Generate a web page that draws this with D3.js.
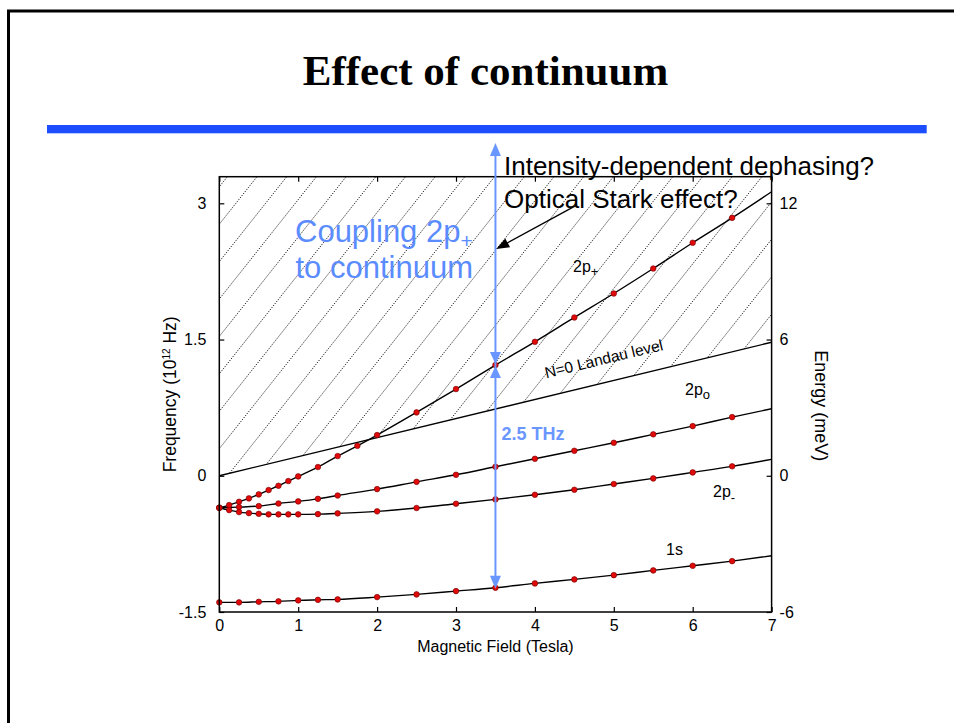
<!DOCTYPE html>
<html>
<head>
<meta charset="utf-8">
<script src="https://cdn.jsdelivr.net/npm/d3@7"></script>
<style>
  html, body { margin: 0; padding: 0; background: #fff; }
  svg { display: block; }
  text { font-family: Arial, "Liberation Sans", sans-serif; }
</style>
</head>
<body>
<svg id="chart" width="954" height="723"></svg>
<script>
// ---- axis ticks ----
const fieldTicks = [0, 1, 2, 3, 4, 5, 6, 7];
const freqTicks = [-1.5, 0, 1.5, 3];
const energyTicks = [-6, 0, 6, 12];

// ---- measured transition frequencies (THz) vs magnetic field (T) ----
const field1s = [0, 0.25, 0.5, 0.75, 1, 1.25, 1.5, 2, 2.5, 3, 3.5, 4, 4.5, 5, 5.5, 6, 6.5];
const freq1s  = [-1.394, -1.394, -1.388, -1.383, -1.372, -1.366, -1.361, -1.336, -1.306, -1.270,
                 -1.233, -1.185, -1.141, -1.094, -1.042, -0.991, -0.940];

const field2pMinus = [0, 0.125, 0.25, 0.375, 0.5, 0.625, 0.75, 0.875, 1, 1.25, 1.5, 2, 2.5, 3,
                      3.5, 4, 4.5, 5, 5.5, 6, 6.5];
const freq2pMinus  = [-0.352, -0.378, -0.400, -0.411, -0.419, -0.425, -0.425, -0.425, -0.425,
                      -0.422, -0.414, -0.392, -0.355, -0.308, -0.260, -0.209, -0.154, -0.091,
                      -0.029, 0.037, 0.104];

const field2p0 = [0, 0.25, 0.5, 0.75, 1, 1.25, 1.5, 2, 2.5, 3, 3.5, 4, 4.5, 5, 5.5, 6, 6.5];
const freq2p0  = [-0.352, -0.345, -0.334, -0.305, -0.282, -0.254, -0.217, -0.147, -0.067, 0.011,
                  0.099, 0.187, 0.275, 0.363, 0.456, 0.547, 0.646];

const field2pPlus = [0, 0.125, 0.25, 0.375, 0.5, 0.625, 0.75, 0.875, 1, 1.25, 1.5, 1.75, 2, 2.5,
                     3, 3.5, 4, 4.5, 5, 5.5, 6, 6.5];
const freq2pPlus  = [-0.352, -0.323, -0.286, -0.249, -0.205, -0.157, -0.110, -0.058, -0.007,
                     0.096, 0.217, 0.330, 0.448, 0.698, 0.955, 1.219, 1.475, 1.743, 2.007,
                     2.282, 2.566, 2.840];

// calculated curves continue to the edge of the field range
const curveEndField = 7;
const curveEnd1s = -0.881;
const curveEnd2pMinus = 0.181;
const curveEnd2p0 = 0.738;
const curveEnd2pPlus = 3.127;

// N=0 Landau level (continuum edge)
const landauField = [0, 7];
const landauFreq = [0, 1.47];

// annotation anchors
const arrowField = 3.5;
const arrowTopFreq = 3.664;
const arrowMidFreq = 1.219;
const arrowLowFreq = -1.233;
const starkTail = [4.53, 2.98];
const starkTip = [3.51, 2.497];

// ---- layout ----
const svg = d3.select("#chart");
const x = d3.scaleLinear().domain([0, 7]).range([219.3, 771.6]);
const y = d3.scaleLinear().domain([-1.5, 3.293]).range([612, 176.7]);
const yE = d3.scaleLinear().domain([-6, 13.172]).range([612, 176.7]);
const [x0, x1] = x.range();
const [yb, yt] = y.range();

// slide frame
svg.append("path").attr("d", `M8.5,723 L8.5,11 L954,11`)
  .attr("fill", "none").attr("stroke", "#000").attr("stroke-width", 3);

// title and rule
svg.append("text").attr("x", 485.5).attr("y", 85).attr("text-anchor", "middle")
  .style("font-family", "'Liberation Serif','Times New Roman',serif")
  .style("font-weight", "bold").style("font-size", "43px")
  .text("Effect of continuum");
svg.append("rect").attr("x", 47).attr("y", 125).attr("width", 879.7).attr("height", 8.3)
  .attr("fill", "#1c4dff");

// ---- hatched continuum above the N=0 Landau level ----
const defs = svg.append("defs");
defs.append("clipPath").attr("id", "contClip").append("polygon")
  .attr("points", [
    [x(landauField[0]), y(landauFreq[0])],
    [x(landauField[1]), y(landauFreq[1])],
    [x1, yt], [x0, yt]
  ].map(p => p.join(",")).join(" "));

const hatchDx = 29.7, hatchSlope = 1.26;
const hatchSpan = (yb - yt) / hatchSlope;
const hatchStarts = d3.range(227.3 - 15 * hatchDx, x1 + hatchSpan + hatchDx, hatchDx);
svg.append("g").attr("clip-path", "url(#contClip)")
  .selectAll("line").data(hatchStarts).join("line")
  .attr("x1", d => d).attr("y1", yt)
  .attr("x2", d => d - hatchSpan).attr("y2", yb)
  .attr("stroke", "#111").attr("stroke-width", 0.9)
  .attr("stroke-dasharray", "1.3 1.3");

// Landau level line
svg.append("line")
  .attr("x1", x(landauField[0])).attr("y1", y(landauFreq[0]))
  .attr("x2", x(landauField[1])).attr("y2", y(landauFreq[1]))
  .attr("stroke", "#000").attr("stroke-width", 1.4);

// ---- transition curves and measured points ----
const series = [
  { b: field1s, f: freq1s, end: curveEnd1s },
  { b: field2pMinus, f: freq2pMinus, end: curveEnd2pMinus },
  { b: field2p0, f: freq2p0, end: curveEnd2p0 },
  { b: field2pPlus, f: freq2pPlus, end: curveEnd2pPlus }
];
const line = d3.line().x(d => x(d[0])).y(d => y(d[1])).curve(d3.curveMonotoneX);
series.forEach(s => {
  const pts = s.b.map((b, i) => [b, s.f[i]]);
  svg.append("path").attr("d", line(pts.concat([[curveEndField, s.end]])))
    .attr("fill", "none").attr("stroke", "#000").attr("stroke-width", 1.4);
});
series.forEach(s => {
  const pts = s.b.map((b, i) => [b, s.f[i]]);
  svg.append("g").selectAll("circle").data(pts).join("circle")
    .attr("cx", d => x(d[0])).attr("cy", d => y(d[1])).attr("r", 2.8)
    .attr("fill", "#e00a0a").attr("stroke", "#700000").attr("stroke-width", 0.6);
});

// ---- axes (inward ticks) ----
function styleAxis(g) {
  g.select(".domain").remove();
  g.selectAll(".tick line").attr("stroke", "#000").attr("stroke-width", 1.2);
  g.selectAll(".tick text").attr("fill", "#000")
    .style("font-family", "Arial, 'Liberation Sans', sans-serif").style("font-size", "16px");
}
const plain = d => String(d);
svg.append("g").attr("transform", `translate(0,${yb})`)
  .call(d3.axisBottom(x).tickValues(fieldTicks).tickFormat(plain)
    .tickSizeInner(-5).tickSizeOuter(0).tickPadding(8))
  .call(styleAxis);
svg.append("g").attr("transform", `translate(0,${yt})`)
  .call(d3.axisTop(x).tickValues(fieldTicks).tickFormat("")
    .tickSizeInner(-5).tickSizeOuter(0))
  .call(styleAxis);
svg.append("g").attr("transform", `translate(${x0},0)`)
  .call(d3.axisLeft(y).tickValues(freqTicks).tickFormat(plain)
    .tickSizeInner(-5).tickSizeOuter(0).tickPadding(13))
  .call(styleAxis);
svg.append("g").attr("transform", `translate(${x1},0)`)
  .call(d3.axisRight(yE).tickValues(energyTicks).tickFormat(plain)
    .tickSizeInner(-5).tickSizeOuter(0).tickPadding(8))
  .call(styleAxis);

// plot frame
svg.append("rect").attr("x", x0).attr("y", yt).attr("width", x1 - x0).attr("height", yb - yt)
  .attr("fill", "none").attr("stroke", "#000").attr("stroke-width", 1.5);

// axis titles
svg.append("text").attr("x", (x0 + x1) / 2).attr("y", 651.7).attr("text-anchor", "middle")
  .style("font-size", "16px").text("Magnetic Field (Tesla)");
const fTitle = svg.append("text")
  .attr("transform", `translate(176,${(yt + yb) / 2}) rotate(-90)`)
  .attr("text-anchor", "middle").style("font-size", "17.5px");
fTitle.append("tspan").text("Frequency (10");
fTitle.append("tspan").attr("dy", -6).style("font-size", "10px").text("12");
fTitle.append("tspan").attr("dy", 6).text(" Hz)");
svg.append("text").attr("transform", `translate(815,405.8) rotate(90)`)
  .attr("text-anchor", "middle").style("font-size", "18px").text("Energy (meV)");

// ---- level labels ----
function levelLabel(px, py, main, sub, subDy) {
  const t = svg.append("text").attr("x", px).attr("y", py).style("font-size", "16px");
  t.append("tspan").text(main);
  t.append("tspan").attr("dy", subDy).style("font-size", "13px").text(sub);
}
levelLabel(573, 272, "2p", "+", 4);
levelLabel(685, 395, "2p", "o", 4);
levelLabel(713, 497, "2p", "-", 5);
svg.append("text").attr("x", 666).attr("y", 554.5).style("font-size", "16px").text("1s");
svg.append("text").attr("transform", "translate(605,364) rotate(-13.5)")
  .attr("text-anchor", "middle").style("font-size", "15.5px").text("N=0 Landau level");

// ---- blue transition arrows ----
const blue = "#6a96ff";
const ax = x(arrowField);
function head(g, tipX, tipY, dx, dy, len, half, color) {
  const bx = tipX - dx * len, by = tipY - dy * len;
  const px = -dy * half, py = dx * half;
  g.append("path")
    .attr("d", `M${tipX},${tipY} L${bx + px},${by + py} L${bx - px},${by - py} Z`)
    .attr("fill", color);
}
const ga = svg.append("g");
ga.append("line").attr("x1", ax).attr("x2", ax)
  .attr("y1", y(arrowTopFreq) + 4).attr("y2", y(arrowLowFreq) - 4)
  .attr("stroke", blue).attr("stroke-width", 2);
head(ga, ax, y(arrowTopFreq), 0, -1, 13, 5.5, blue);
head(ga, ax, y(arrowMidFreq) - 1, 0, 1, 12, 5.5, blue);
head(ga, ax, y(arrowMidFreq) + 1, 0, -1, 12, 5.5, blue);
head(ga, ax, y(arrowLowFreq) + 1, 0, 1, 13, 5.5, blue);
svg.append("text").attr("x", 501.5).attr("y", 440).attr("fill", blue)
  .style("font-size", "18px").style("font-weight", "bold").text("2.5 THz");

// coupling label (two lines in one text block)
const cl = svg.append("text").attr("fill", "#5b8cff").style("font-size", "31px");
cl.append("tspan").attr("x", 295).attr("y", 241.7).text("Coupling 2p");
cl.append("tspan").attr("dy", 6).style("font-size", "21px").text("+");
cl.append("tspan").attr("x", 295.5).attr("y", 278).text("to continuum");

// open questions
const q = svg.append("text").style("font-size", "26px");
q.append("tspan").attr("x", 504).attr("y", 175).text("Intensity-dependent dephasing?");
q.append("tspan").attr("x", 504).attr("y", 207.5).text("Optical Stark effect?");

// arrow pointing at the 2p+ continuum region
const sx1 = x(starkTail[0]), sy1 = y(starkTail[1]);
const sx2 = x(starkTip[0]), sy2 = y(starkTip[1]);
const len = Math.hypot(sx2 - sx1, sy2 - sy1);
const ux = (sx2 - sx1) / len, uy = (sy2 - sy1) / len;
svg.append("line").attr("x1", sx1).attr("y1", sy1)
  .attr("x2", sx2 - ux * 10).attr("y2", sy2 - uy * 10)
  .attr("stroke", "#000").attr("stroke-width", 1.3);
head(svg, sx2, sy2, ux, uy, 13, 5, "#000");
</script>
</body>
</html>
